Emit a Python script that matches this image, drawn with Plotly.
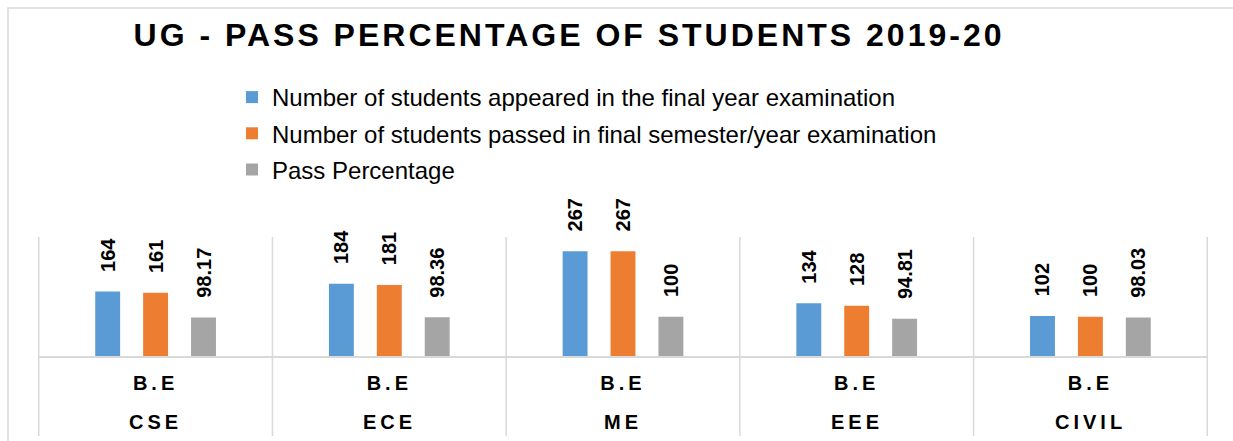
import plotly.graph_objects as go

departments = ["CSE", "ECE", "ME", "EEE", "CIVIL"]
degree = ["B.E", "B.E", "B.E", "B.E", "B.E"]
appeared = [164, 184, 267, 134, 102]
passed = [161, 181, 267, 128, 100]
pass_pct = [98.17, 98.36, 100, 94.81, 98.03]

series_names = [
    "Number of students appeared in the final year examination",
    "Number of students passed in final semester/year examination",
    "Pass Percentage",
]
series_values = [appeared, passed, pass_pct]
series_colors = ["#5B9BD5", "#ED7D31", "#A5A5A5"]

FONT = "Liberation Sans, Arial, sans-serif"
W, H = 1233, 441
ML, MR, MT, MB = 38, 25, 237, 85
plot_w = W - ML - MR
plot_h = H - MT - MB


def px_x(p):
    return (p - ML) / plot_w


def px_y(p):
    return (H - MB - p) / plot_h


fig = go.Figure()
for name, vals, col in zip(series_names, series_values, series_colors):
    fig.add_trace(go.Bar(
        x=departments, y=vals, name=name, legendgroup=name,
        marker=dict(color=col, line=dict(width=0)),
        texttemplate="\u00a0\u00a0\u00a0%{y}",
        textposition="outside", textangle=-90,
        textfont=dict(family=FONT, size=20, color="#000000", weight="bold"),
        cliponaxis=False, constraintext="none",
    ))

shapes = []
# chart border
shapes.append(dict(type="rect", xref="paper", yref="paper",
                   x0=px_x(8), x1=px_x(1245), y0=px_y(455), y1=px_y(8),
                   line=dict(color="#D9D9D9", width=1.5), fillcolor="rgba(0,0,0,0)", layer="below"))
# category separators
for i in range(len(departments) + 1):
    shapes.append(dict(type="line", xref="x", yref="paper",
                       x0=i - 0.5, x1=i - 0.5, y0=px_y(436), y1=1,
                       line=dict(color="#D9D9D9", width=1.5), layer="below"))

annotations = []
for d in departments:
    annotations.append(dict(
        x=d, xref="x", y=px_y(422), yref="paper", yanchor="middle",
        text=f"<span style='letter-spacing:4px'>{d}</span>", showarrow=False,
        font=dict(family=FONT, size=20, color="#000000", weight="bold"),
    ))

fig.update_layout(
    width=W, height=H,
    margin=dict(l=ML, r=MR, t=MT, b=MB, autoexpand=False),
    paper_bgcolor="white", plot_bgcolor="white",
    barmode="group", bargap=0.385, bargroupgap=0.48,
    title=dict(
        text="<span style='letter-spacing:3px'>UG - PASS PERCENTAGE OF STUDENTS 2019-20</span>",
        x=569 / W, xref="container", xanchor="center",
        y=1 - 35 / H, yref="container", yanchor="middle",
        font=dict(family=FONT, size=32, color="#000000", weight="bold"),
    ),
    legend=dict(
        x=232 / W, xref="container", xanchor="left",
        y=1 - 75 / H, yref="container", yanchor="top",
        font=dict(family=FONT, size=24, color="#000000"),
        tracegroupgap=2, bgcolor="rgba(0,0,0,0)",
    ),
    xaxis=dict(
        type="category", showgrid=False, zeroline=False,
        showline=True, linecolor="#D9D9D9", linewidth=1.5,
        ticks="", tickmode="array", tickvals=departments,
        ticktext=[f"<span style='letter-spacing:4px'>{t}</span>" for t in degree],
        tickfont=dict(family=FONT, size=20, color="#000000", weight="bold"),
        ticklabelstandoff=8, fixedrange=True,
    ),
    yaxis=dict(range=[0, 303], visible=False, fixedrange=True),
    shapes=shapes, annotations=annotations,
    showlegend=True,
)

fig.write_html("out.html", config={"displayModeBar": False},
               post_script="document.body.style.margin='0';")
